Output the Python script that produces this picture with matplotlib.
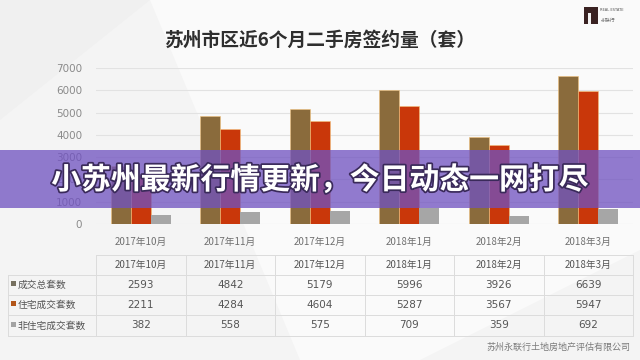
import matplotlib
matplotlib.use("Agg")
import matplotlib.pyplot as plt
import matplotlib.patheffects as pe
from matplotlib.patches import Rectangle, Polygon
import numpy as np

plt.rcParams['font.family'] = ['Noto Sans CJK SC', 'DejaVu Sans']

months = ["2017年10月", "2017年11月", "2017年12月", "2018年1月", "2018年2月", "2018年3月"]
series_names = ["成交总套数", "住宅成交套数", "非住宅成交套数"]
total = [2593, 4842, 5179, 5996, 3926, 6639]
residential = [2211, 4284, 4604, 5287, 3567, 5947]
nonresidential = [382, 558, 575, 709, 359, 692]
yticks = [0, 1000, 2000, 3000, 4000, 5000, 6000, 7000]
title = "苏州市区近6个月二手房签约量（套）"
banner = "小苏州最新行情更新，今日动态一网打尽"
footer = "苏州永联行土地房地产评估有限公司"

bar_colors = ["#8a6b3c", "#c9370a", "#a6a6a6"]
legend_colors = ["#76705f", "#b3561a", "#a3a3a3"]

W, H = 640, 360
fig = plt.figure(figsize=(6.4, 3.6), dpi=100)
fig.patch.set_facecolor("#f4f4f4")

def fx(px):
    return px / W

def fy(py):
    return 1 - py / H

# faint background shapes
bg = fig.add_axes([0, 0, 1, 1], zorder=0)
bg.set_xlim(0, W); bg.set_ylim(H, 0); bg.axis("off")
bg.add_patch(Polygon([[150, 0], [640, 0], [640, 250], [420, 360], [300, 360]], closed=True,
                     facecolor="#fafafa", edgecolor="none"))
bg.add_patch(Polygon([[0, 0], [150, 0], [0, 120]], closed=True, facecolor="#f0f0f0", edgecolor="none"))

# chart axes
x0, x1 = 96, 633
ytop, ybot = 68, 224
ax = fig.add_axes([fx(x0), fy(ybot), fx(x1 - x0), (ybot - ytop) / H], zorder=1)
ax.patch.set_alpha(0)
x = np.arange(len(months))
w = 0.223
for i, (vals, c) in enumerate(zip([total, residential, nonresidential], bar_colors)):
    ax.bar(x + (i - 1) * w, vals, width=w, color=c, edgecolor="#f3c27a" if i < 2 else "none",
           linewidth=0.4, zorder=3)
ax.set_xlim(-0.5, len(months) - 0.5)
ax.set_ylim(0, 7000)
ax.set_yticks(yticks)
ax.set_yticklabels([str(v) for v in yticks], fontsize=7.5, color="#8a8a8a", family="DejaVu Sans")
ax.set_xticks(x)
ax.set_xticklabels(months, fontsize=7, color="#707070")
ax.tick_params(length=0, pad=10)
ax.tick_params(axis="x", pad=9)
ax.grid(axis="y", color="#e2e2e2", linewidth=0.8, zorder=0)
for s in ax.spines.values():
    s.set_visible(False)

# title
fig.text(0.5, fy(40), title, ha="center", va="center", fontsize=13.5, fontweight="bold", color="#2e2e2e")

# logo
lg = fig.add_axes([0, 0, 1, 1], zorder=2)
lg.set_xlim(0, W); lg.set_ylim(H, 0); lg.axis("off")
lg.add_patch(Rectangle((584, 7), 14, 17, facecolor="#3a2222", edgecolor="none"))
lg.add_patch(Rectangle((588, 13), 3, 11, facecolor="#f4f4f4", edgecolor="none"))
lg.text(600, 10, "REAL ESTATE", fontsize=2.6, color="#555555", va="center", family="DejaVu Sans")
lg.text(601, 20, "永联行", fontsize=3.5, color="#666666", va="center")

# table
tb = fig.add_axes([0, 0, 1, 1], zorder=2)
tb.set_xlim(0, W); tb.set_ylim(H, 0); tb.axis("off")
col0_left, col0_right = 8, 96
colw = (x1 - x0) / len(months)
row_tops = [255, 275, 295, 315, 336]
linec = "#dcdcdc"
tb.plot([col0_right, x1], [row_tops[0], row_tops[0]], color=linec, lw=0.7)
for yy in row_tops[1:]:
    tb.plot([col0_left, x1], [yy, yy], color=linec, lw=0.7)
tb.plot([col0_left, col0_left], [row_tops[1], row_tops[-1]], color=linec, lw=0.7)
for k in range(len(months) + 1):
    xx = col0_right + k * colw
    tb.plot([xx, xx], [row_tops[0], row_tops[-1]], color=linec, lw=0.7)
for j, m in enumerate(months):
    tb.text(col0_right + (j + 0.5) * colw, (row_tops[0] + row_tops[1]) / 2, m,
            ha="center", va="center", fontsize=7, color="#555555")
for r, (name, vals, lc) in enumerate(zip(series_names, [total, residential, nonresidential], legend_colors)):
    yc = (row_tops[r + 1] + row_tops[r + 2]) / 2
    tb.add_patch(Rectangle((11, yc - 4), 5, 5, facecolor=lc, edgecolor="none"))
    tb.text(18, yc, name, ha="left", va="center", fontsize=7, color="#555555")
    for j, v in enumerate(vals):
        tb.text(col0_right + (j + 0.5) * colw, yc, str(v), ha="center", va="center",
                fontsize=7.5, color="#555555", family="DejaVu Sans")

tb.text(630, 347, footer, ha="right", va="center", fontsize=6.5, color="#7a7a7a")

# banner overlay
ov = fig.add_axes([0, 0, 1, 1], zorder=5)
ov.set_xlim(0, W); ov.set_ylim(H, 0); ov.axis("off")
ov.patch.set_alpha(0)
ov.add_patch(Rectangle((0, 150), W, 58, facecolor="#7052c0", alpha=0.76, edgecolor="none"))
ov.text(320, 180, banner, ha="center", va="center", fontsize=21.5, fontweight="bold", color="white",
        path_effects=[pe.withStroke(linewidth=2.5, foreground="#3a2a5a")])

fig.savefig("out.png", dpi=100, facecolor=fig.get_facecolor())
